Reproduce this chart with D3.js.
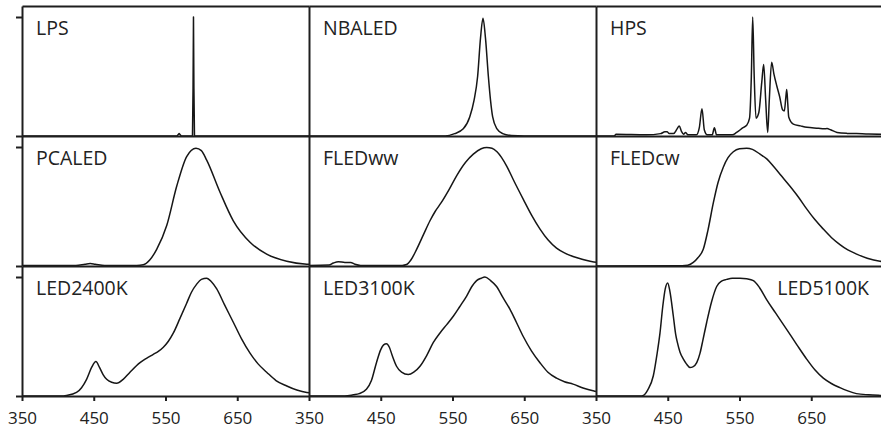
<!DOCTYPE html>
<html>
<head>
<meta charset="utf-8">
<script src="https://cdn.jsdelivr.net/npm/d3@7/dist/d3.min.js"></script>
<style>
  html, body { margin: 0; padding: 0; background: #fff; }
  svg { display: block; }
</style>
</head>
<body>
<svg id="chart" width="881" height="433"></svg>
<script>
// ---- Data: [wavelength nm, relative power] ----
const panelNames = ["LPS", "NBALED", "HPS", "PCALED", "FLEDww", "FLEDcw", "LED2400K", "LED3100K", "LED5100K"];
const xTicks = [350, 450, 550, 650];
const yTicks = [0, 1];

const LPS = [[350,0],[566,0],[569,0.02],[572,0],[587.6,0],[588.4,0.4],[589,1.0],[589.6,0.4],[590.4,0],[750,0]];
const NBALED = [[350,0],[540,0],[553,0.02],[565,0.06],[574,0.16],[580,0.3],[585,0.5],[589,0.82],[592.5,0.99],[596,0.82],[600,0.5],[603,0.3],[606,0.16],[612,0.06],[620,0.02],[632,0.004],[650,0],[750,0]];
const HPS = [[350,0],[375,0],[378,0.014],[420,0.01],[440,0.02],[446,0.035],[449,0.036],[452,0.02],[458,0.02],[463,0.06],[466,0.085],[469,0.04],[472,0.015],[475,0.03],[478,0.01],[490,0.01],[494,0.07],[497.7,0.23],[501,0.05],[505,0.01],[512,0.01],[515,0.07],[518,0.01],[540,0.01],[546,0.03],[555,0.07],[560,0.09],[564,0.15],[566.5,0.5],[568.4,1.0],[570.5,0.5],[573,0.15],[577,0.2],[581,0.45],[583.7,0.6],[586.5,0.3],[589.3,0.03],[591.5,0.3],[594.8,0.62],[598,0.52],[602,0.42],[606,0.33],[610,0.22],[612.5,0.21],[614.5,0.32],[615.8,0.39],[617.2,0.28],[618.6,0.16],[625,0.1],[635,0.085],[644,0.073],[660,0.065],[668,0.06],[672,0.062],[677,0.052],[686,0.03],[700,0.022],[713,0.02],[730,0.016],[750,0.014]];
const PCALED = [[350,0.005],[425,0.005],[438,0.015],[445,0.02],[452,0.015],[465,0.005],[510,0.005],[519,0.01],[528,0.05],[537.7,0.14],[551.7,0.34],[565.6,0.67],[579.5,0.92],[592.5,0.99],[600,0.97],[607.4,0.89],[626,0.62],[644.5,0.38],[667.8,0.2],[691,0.1],[719,0.04],[747,0.015],[750,0.014]];
const FLEDww = [[350,0.005],[378,0.008],[384,0.025],[391,0.036],[400,0.03],[408,0.03],[414,0.015],[422,0.005],[480,0.005],[486,0.012],[492,0.05],[500,0.14],[510,0.27],[518.6,0.38],[526,0.46],[534,0.53],[545,0.64],[555.9,0.76],[568,0.87],[579,0.94],[590,0.985],[597.7,0.995],[605,0.99],[612,0.96],[625.5,0.84],[636,0.71],[648.7,0.56],[660,0.43],[672,0.31],[683,0.22],[695,0.15],[706,0.11],[718,0.08],[732,0.055],[747,0.034],[750,0.032]];
const FLEDcw = [[350,0],[470,0.002],[478,0.006],[485.6,0.03],[492,0.07],[499.5,0.14],[506,0.3],[513.5,0.53],[520,0.7],[527.4,0.83],[534,0.91],[541.4,0.96],[550,0.985],[560,0.99],[568,0.98],[578.6,0.94],[588,0.9],[597,0.84],[608,0.76],[620.4,0.67],[632,0.58],[643.6,0.48],[655,0.39],[666.8,0.31],[678,0.24],[690,0.18],[701,0.135],[713.3,0.1],[728,0.065],[745.8,0.04],[750,0.037]];
const LED2400K = [[350,0],[405,0],[412,0.005],[426,0.03],[433,0.07],[440,0.14],[447,0.24],[453,0.29],[458,0.24],[463,0.18],[468,0.14],[475,0.115],[482,0.107],[491,0.14],[500.5,0.2],[514.5,0.28],[523,0.315],[533,0.35],[540,0.375],[547,0.41],[554,0.46],[561,0.53],[570,0.65],[579.5,0.78],[586,0.87],[593.5,0.94],[600,0.98],[607.4,0.99],[614,0.96],[621.4,0.9],[632,0.77],[644.5,0.62],[656,0.48],[667.8,0.36],[679,0.27],[691,0.2],[704,0.13],[719,0.084],[733,0.05],[747,0.03],[750,0.028]];
const LED3100K = [[350,0],[400,0],[411.7,0.01],[420,0.02],[430,0.056],[437,0.13],[444,0.28],[450,0.39],[454,0.43],[458,0.44],[462,0.41],[466,0.34],[472,0.25],[479,0.2],[488.4,0.18],[496,0.2],[504.7,0.25],[514,0.34],[523.3,0.45],[532.6,0.53],[542,0.6],[551.1,0.67],[560,0.75],[569.7,0.84],[577,0.92],[583.6,0.97],[590,0.99],[595.2,1.0],[603,0.97],[611.4,0.92],[620,0.83],[630,0.73],[639,0.62],[648.6,0.5],[660,0.38],[671.9,0.28],[683,0.2],[695,0.15],[706,0.12],[718,0.1],[733,0.065],[748.6,0.04],[750,0.038]];
const LED5100K = [[350,0],[412,0],[416,0.005],[422,0.05],[429.9,0.17],[435,0.35],[439.2,0.53],[443,0.75],[446.5,0.9],[449.9,0.95],[453,0.88],[457.8,0.67],[461,0.52],[463.4,0.45],[467,0.37],[471.8,0.31],[476,0.27],[481,0.24],[485,0.245],[490.4,0.28],[495,0.36],[499,0.47],[504.3,0.62],[511,0.79],[518.2,0.92],[525,0.965],[532,0.98],[540,0.99],[550.7,0.99],[560,0.985],[569.3,0.97],[578,0.91],[587.8,0.81],[600,0.7],[615.7,0.56],[630,0.43],[643.6,0.31],[655,0.22],[666.8,0.15],[678,0.105],[690,0.07],[700,0.045],[713,0.02],[730,0.01],[746,0.005],[750,0.004]];

const spectra = [LPS, NBALED, HPS, PCALED, FLEDww, FLEDcw, LED2400K, LED3100K, LED5100K];

// ---- Layout ----
const svg = d3.select("#chart");
const leftX = 22, topY = 6, colW = 287, rowH = 130, unitH = 119;
const axisColor = "#1e1e1e";
const fontFamily = "'Open Sans', 'Noto Sans', sans-serif";

spectra.forEach((data, i) => {
  const col = i % 3, row = Math.floor(i / 3);
  const x0 = leftX + col * colW;
  const base = topY + (row + 1) * rowH;
  const x = d3.scaleLinear().domain([350, 750]).range([x0, x0 + colW]);
  const y = d3.scaleLinear().domain([0, 1]).range([base, base - unitH]);
  const yTop = y.invert(base - rowH);

  const g = svg.append("g");

  // curve
  const line = d3.line()
    .x(d => x(d[0]))
    .y(d => y(d[1]))
    .curve(i === 0 ? d3.curveLinear : d3.curveMonotoneX);
  g.append("path")
    .datum(data)
    .attr("fill", "none")
    .attr("stroke", "#161616")
    .attr("stroke-width", 1.5)
    .attr("stroke-linejoin", "round")
    .attr("d", line);

  // bottom axis of panel (baseline)
  const isBottom = row === 2;
  const xAxis = d3.axisBottom(x)
    .tickValues(isBottom ? xTicks : [])
    .tickSize(isBottom ? 5 : 0)
    .tickSizeOuter(0)
    .tickPadding(11)
    .tickFormat(d3.format("d"));
  const gx = g.append("g").attr("transform", `translate(0,${base})`).call(xAxis);
  gx.select(".domain").attr("stroke", axisColor).attr("stroke-width", 2);
  gx.selectAll(".tick line").attr("stroke", axisColor).attr("stroke-width", 2);
  gx.selectAll(".tick text")
    .attr("fill", "#222")
    .style("font-family", fontFamily)
    .style("font-size", "17px");

  // top edge for first row
  if (row === 0) {
    const tAxis = d3.axisTop(x).tickValues([]).tickSizeOuter(0);
    const gt = g.append("g").attr("transform", `translate(0,${base - rowH})`).call(tAxis);
    gt.select(".domain").attr("stroke", axisColor).attr("stroke-width", 2);
  }

  // left axis
  const yl = d3.scaleLinear().domain([0, yTop]).range([base, base - rowH]);
  const yAxis = d3.axisLeft(yl)
    .tickValues(col === 0 ? yTicks : [])
    .tickSize(6)
    .tickSizeOuter(0)
    .tickFormat("");
  const gy = g.append("g").attr("transform", `translate(${x0},0)`).call(yAxis);
  gy.select(".domain").attr("stroke", axisColor).attr("stroke-width", 2);
  gy.selectAll(".tick line").attr("stroke", axisColor).attr("stroke-width", 2);

  // panel label
  const isRight = i === 8;
  g.append("text")
    .attr("x", isRight ? x0 + 273 : x0 + 14)
    .attr("y", base - rowH + 29)
    .attr("text-anchor", isRight ? "end" : "start")
    .attr("fill", "#222")
    .style("font-family", fontFamily)
    .style("font-size", "19.5px")
    .text(panelNames[i]);
});
</script>
</body>
</html>
